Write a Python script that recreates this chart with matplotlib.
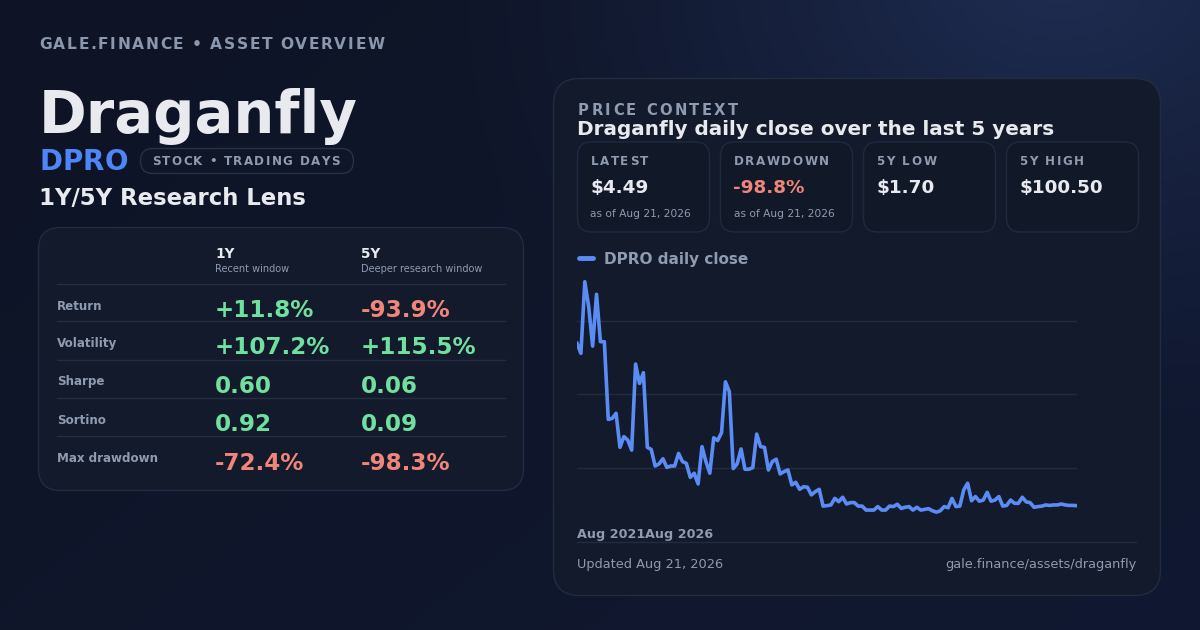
import numpy as np
import matplotlib
matplotlib.use("Agg")
import matplotlib.pyplot as plt
from matplotlib.patches import FancyBboxPatch
from matplotlib import font_manager as fm
from matplotlib.ft2font import FT2Font
try:
    from matplotlib.ft2font import LoadFlags
    NOHINT = LoadFlags.NO_HINTING
except Exception:
    from matplotlib.ft2font import LOAD_NO_HINTING as NOHINT

# ---------------- data ----------------
close = [74.1, 69.8, 100.5, 89.8, 72.9, 95.1, 74.8, 74.8, 41.5, 41.9,
         44.1, 29.5, 34.1, 32.6, 28.3, 65.2, 56.9, 61.5, 29.5, 28.6,
         21.5, 22.4, 24.6, 20.9, 21.5, 21.5, 26.9, 23.4, 22.6, 16.6,
         18.4, 13.8, 29.8, 23.4, 18.4, 33.6, 32.4, 35.8, 57.6, 53.4,
         20.4, 22.4, 28.8, 20.1, 20.1, 20.8, 35.2, 29.8, 29.5, 19.8,
         23.4, 24.4, 18.1, 19.1, 19.8, 13.4, 14.5, 11.5, 12.6, 12.4,
         9.1, 10.5, 11.5, 4.3, 4.5, 4.8, 7.6, 6.2, 8.1, 5.2,
         5.8, 5.8, 4.3, 4.3, 2.6, 2.6, 2.6, 4.1, 2.6, 2.6,
         4.3, 4.1, 5.1, 3.3, 3.8, 4.1, 2.6, 3.8, 2.6, 2.9,
         3.2, 2.3, 1.7, 2.3, 4.1, 3.6, 7.6, 4.1, 4.3, 11.2,
         14.1, 6.6, 8.4, 6.4, 6.9, 10.2, 6.4, 6.9, 8.4, 4.3,
         4.6, 6.9, 5.5, 5.5, 8.1, 6.1, 5.8, 3.8, 4.1, 4.3,
         4.8, 4.6, 4.8, 4.8, 5.2, 4.8, 4.6, 4.6, 4.49]
x_tick_labels = ["Aug 2021", "Aug 2026"]

row_labels = ["Return", "Volatility", "Sharpe", "Sortino", "Max drawdown"]
col_titles = ["1Y", "5Y"]
col_subtitles = ["Recent window", "Deeper research window"]
vals_1y = ["+11.8%", "+107.2%", "0.60", "0.92", "-72.4%"]
vals_5y = ["-93.9%", "+115.5%", "0.06", "0.09", "-98.3%"]

stat_labels = ["LATEST", "DRAWDOWN", "5Y LOW", "5Y HIGH"]
stat_values = ["$4.49", "-98.8%", "$1.70", "$100.50"]
stat_notes = ["as of Aug 21, 2026", "as of Aug 21, 2026", "", ""]

# ---------------- style ----------------
W, H, DPI = 1200, 630, 100
WHITE = "#e8eaef"
MUTED = "#8f9bb0"
BLUE = "#5b8cf5"
DPRO_BLUE = "#4f86f7"
GREEN = "#70e0a0"
RED = "#f0857a"
CARD = "#131a2b"
CARD_EDGE = "#212c41"
BOX = "#111828"
GRID = "#222c40"
FAM = "DejaVu Sans"

fig = plt.figure(figsize=(W / DPI, H / DPI), dpi=DPI)
bg = fig.add_axes([0, 0, 1, 1])
bg.set_xlim(0, W)
bg.set_ylim(H, 0)
bg.axis("off")

# background gradient
yy, xx = np.mgrid[0:H, 0:W]
c_tl = np.array([14, 20, 37]) / 255
c_br = np.array([17, 25, 50]) / 255
glow = np.array([31, 45, 82]) / 255
s = np.clip((xx / W) * 0.6 + (yy / H) * 0.4, 0, 1)[..., None]
basemap = c_tl[None, None, :] * (1 - s) + c_br[None, None, :] * s
d = np.sqrt(((xx - 1060) / 640) ** 2 + ((yy + 30) / 480) ** 2)
t = (np.clip(1 - d, 0, 1) ** 1.3)[..., None]
img = basemap * (1 - t) + glow[None, None, :] * t
bg.imshow(np.clip(img, 0, 1), extent=[0, W, H, 0], zorder=0, aspect="auto", interpolation="bilinear")

_font_cache = {}


def advances(s, size, weight):
    if weight not in _font_cache:
        _font_cache[weight] = fm.findfont(fm.FontProperties(family=FAM, weight=weight))
    f = FT2Font(_font_cache[weight])
    f.set_size(size, DPI)
    out = []
    for ch in s:
        g = f.load_char(ord(ch), flags=NOHINT)
        out.append(g.linearHoriAdvance / 65536)
    return out


def spaced(x, y, s, size, weight="bold", color=MUTED, spacing=0.0, ha="left", zorder=5):
    w = advances(s, size, weight)
    total = sum(w) + spacing * (len(s) - 1)
    if ha == "right":
        x -= total
    cx = x
    for ch, aw in zip(s, w):
        if ch != " ":
            bg.text(cx, y, ch, fontsize=size, fontweight=weight, color=color,
                    va="baseline", ha="left", family=FAM, zorder=zorder)
        cx += aw + spacing


def txt(x, y, s, size, weight="bold", color=WHITE, ha="left"):
    bg.text(x, y, s, fontsize=size, fontweight=weight, color=color,
            va="baseline", ha=ha, family=FAM, zorder=5)


def rbox(x, y, w, h, r, fc, ec, lw=1.0, z=2):
    p = FancyBboxPatch((x, y), w, h, boxstyle=f"round,pad=0,rounding_size={r}",
                       fc=fc, ec=ec, lw=lw, zorder=z)
    bg.add_patch(p)


# ---------------- header (left) ----------------
spaced(39, 49, "GALE.FINANCE • ASSET OVERVIEW", 11.2, color="#8a97ad", spacing=1.55)
txt(39, 133, "Draganfly", 41.5, color=WHITE)
spaced(39, 170, "DPRO", 20, color=DPRO_BLUE, spacing=0.3)
rbox(140.5, 148.5, 213, 25, 12.5, "#0f1627", "#27324a", lw=1.0, z=3)
spaced(152, 165, "STOCK • TRADING DAYS", 8.6, color="#8f9bb0", spacing=1.4)
txt(39, 205, "1Y/5Y Research Lens", 16.4)

# ---------------- metrics table ----------------
rbox(38.5, 227.5, 485, 263, 22, CARD, CARD_EDGE, z=2)
col_x = [215, 361]
for cx, ttl, sub in zip(col_x, col_titles, col_subtitles):
    txt(cx, 258, ttl, 9.8, color=WHITE)
    txt(cx, 272, sub, 7.0, weight="normal", color=MUTED)
sep_y = [283.5, 321, 359.5, 397.5, 436]
for sy in sep_y:
    bg.plot([57, 505], [sy, sy], color="#232e42", lw=1.0, zorder=3)
for i, lab in enumerate(row_labels):
    top = sep_y[i]
    txt(57, top + 26, lab, 8.6, color=MUTED)
    for cx, v in zip(col_x, [vals_1y[i], vals_5y[i]]):
        col = RED if v.startswith("-") else GREEN
        txt(cx, top + 33.5, v, 16.6, color=col)

# ---------------- price context card ----------------
rbox(553.5, 78.5, 607, 517, 26, CARD, CARD_EDGE, z=2)
spaced(578, 115, "PRICE CONTEXT", 10.6, color="#8f9bb0", spacing=2.4)
txt(577, 135, "Draganfly daily close over the last 5 years", 14.4)

box_x = [577.5, 720.5, 863.5, 1006.5]
for bx, lab, val, note in zip(box_x, stat_labels, stat_values, stat_notes):
    rbox(bx, 142, 132, 90, 14, BOX, "#1f2a40", z=3)
    spaced(bx + 13, 165, lab, 8.6, color="#8f9bb0", spacing=1.6)
    col = RED if val.startswith("-") else WHITE
    txt(bx + 13, 193, val, 13.2, color=col)
    if note:
        txt(bx + 13, 217, note, 7.7, weight="normal", color=MUTED)

# legend
bg.plot([579, 593], [258, 258], color=BLUE, lw=3.5, solid_capstyle="round", zorder=5)
txt(604, 264, "DPRO daily close", 11.0, color="#8f9bb0")

# chart axes (pixel box 577..1077 x 247..541)
ax = fig.add_axes([577 / W, (H - 541) / H, 500 / W, (541 - 247) / H])
ax.set_facecolor("none")
xs = np.arange(len(close))
ax.plot(xs, close, color=BLUE, lw=2.6, solid_joinstyle="round", zorder=4)
ax.set_xlim(0, len(close) - 1)
y0, y1 = -10.66, 115.4
ax.set_ylim(y0, y1)
ax.set_yticks([y0 + (y1 - y0) * f for f in (0.25, 0.5, 0.75)])
ax.yaxis.grid(True, color=GRID, lw=1.0)
ax.set_axisbelow(True)
ax.tick_params(left=False, bottom=False, labelleft=False, labelbottom=False)
ax.set_xticks([])
for sp in ax.spines.values():
    sp.set_visible(False)

# x labels and baseline
bg.plot([577, 1136], [541.5, 541.5], color="#222c40", lw=1.0, zorder=3)
txt(577, 538, x_tick_labels[0], 9.2, color="#8f9bb0")
lw0 = sum(advances(x_tick_labels[0], 9.2, "bold"))
txt(577 + lw0, 538, x_tick_labels[1], 9.2, color="#8f9bb0")

# footer
txt(577, 568, "Updated Aug 21, 2026", 9.3, weight="normal", color=MUTED)
txt(1136, 568, "gale.finance/assets/draganfly", 9.3, weight="normal", color=MUTED, ha="right")

fig.savefig("out.png", dpi=DPI, facecolor="#0d1424")
